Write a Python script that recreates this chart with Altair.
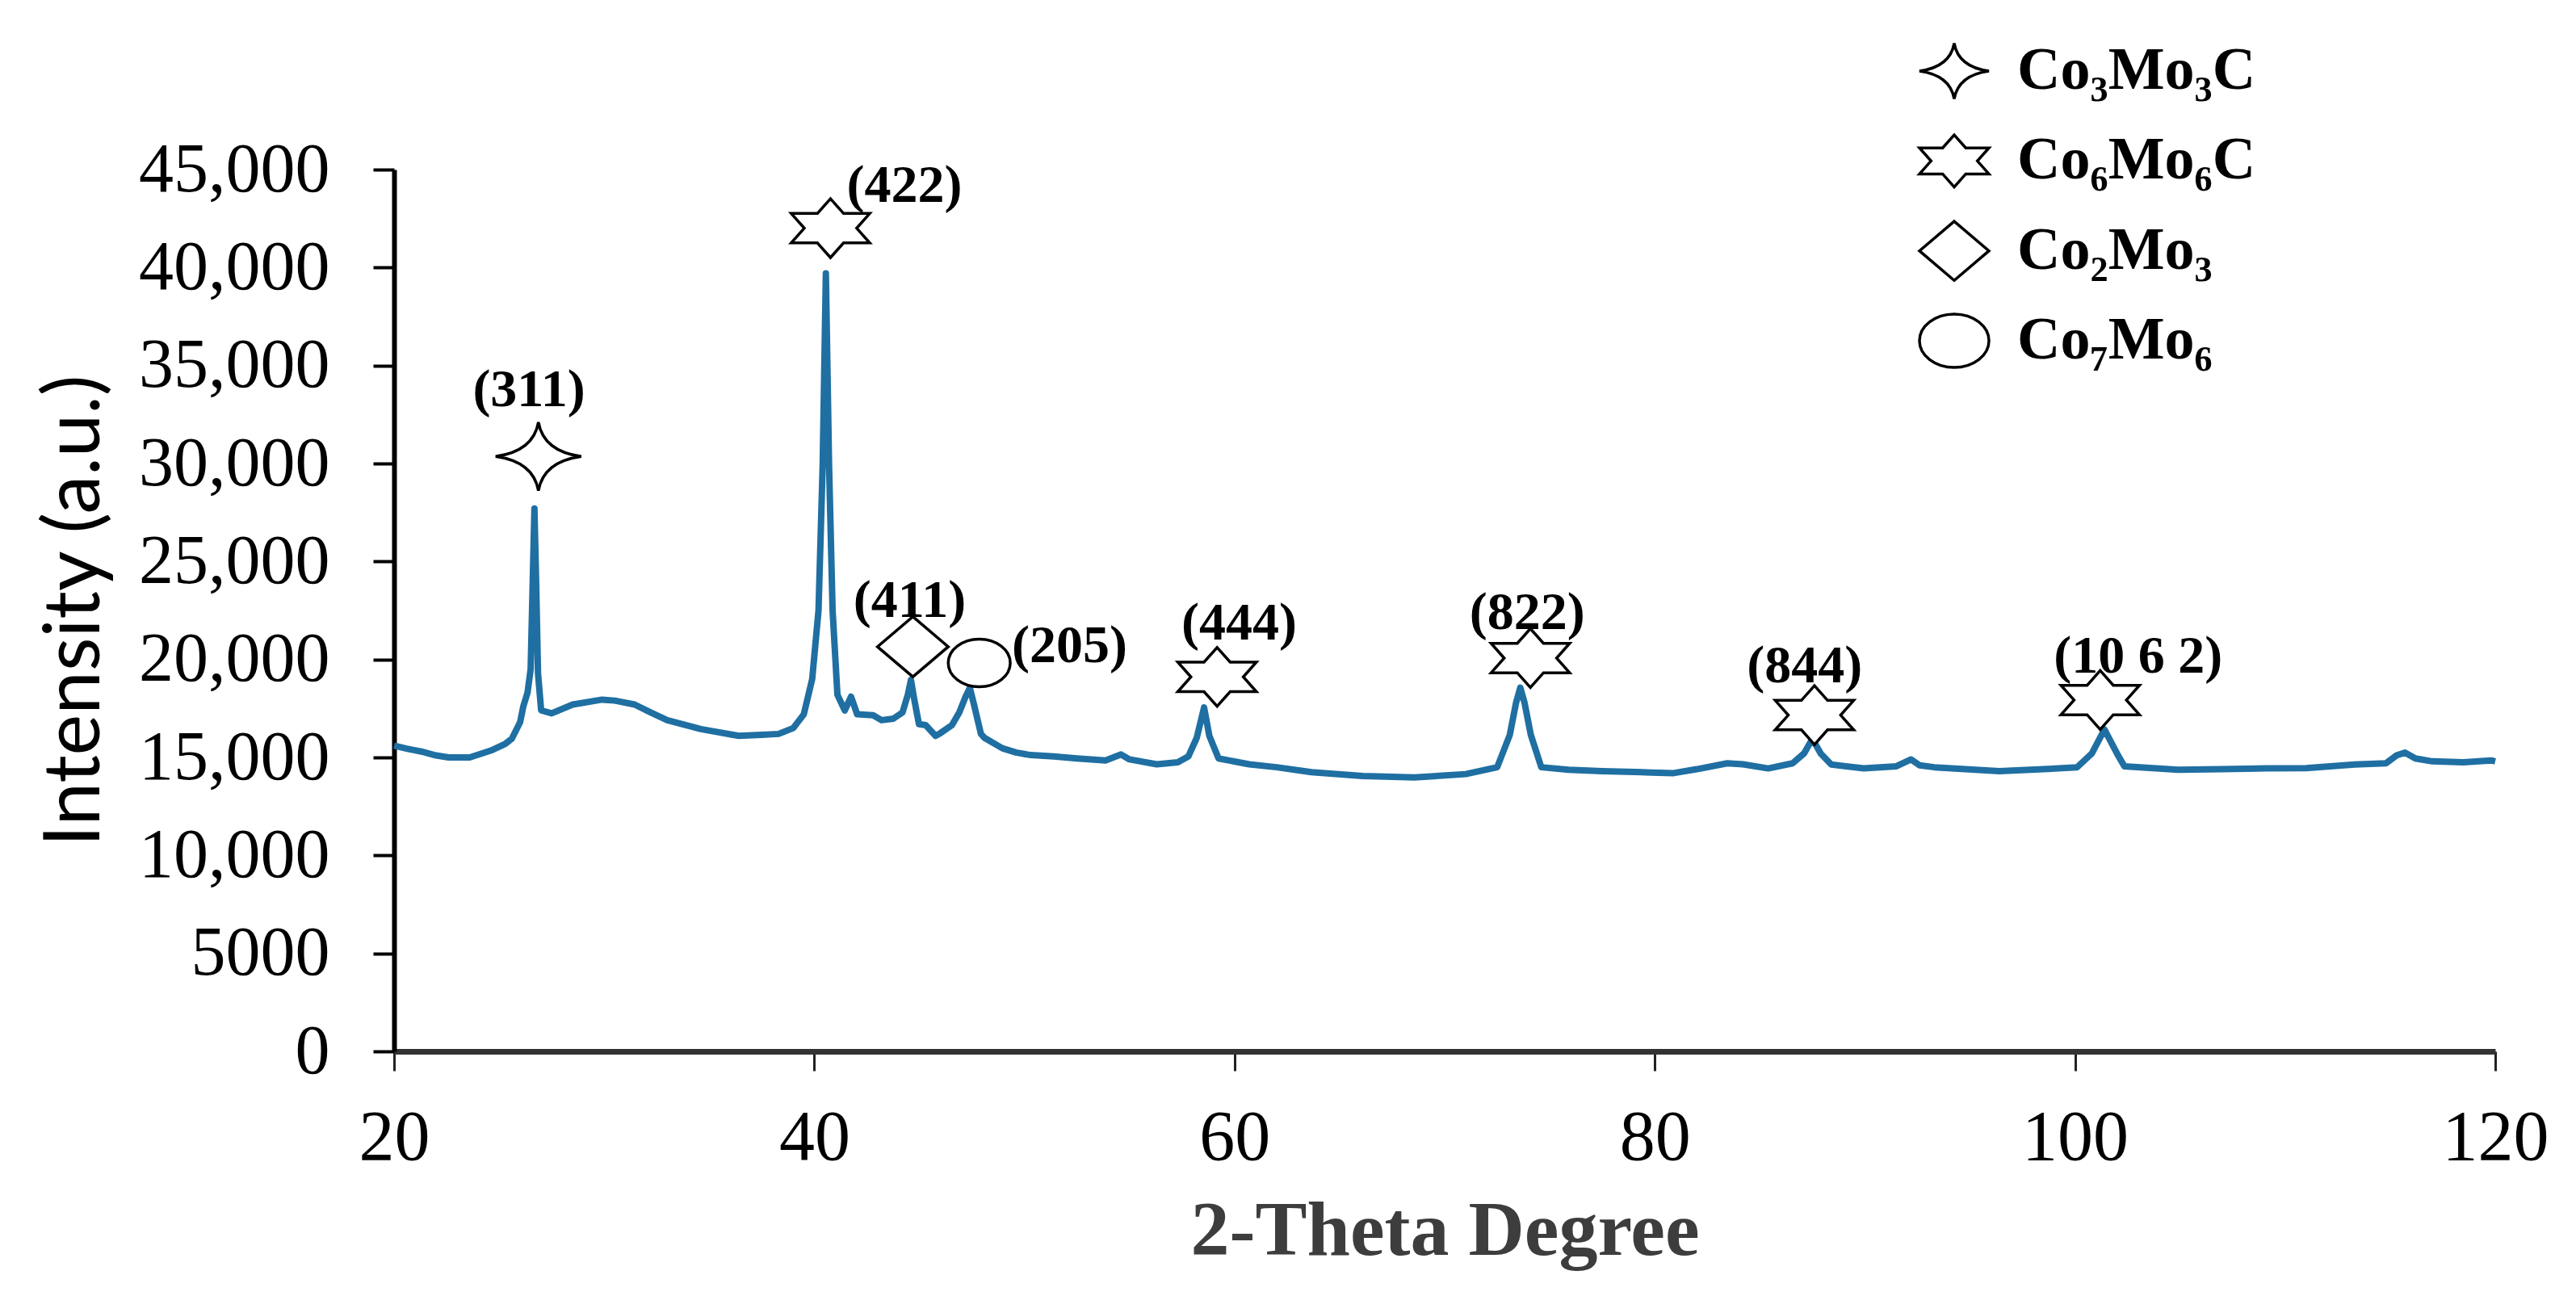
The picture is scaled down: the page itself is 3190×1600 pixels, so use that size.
import altair as alt
import pandas as pd

# ---- XRD pattern ----
two_theta = [20.0, 20.6, 21.3, 22.0, 22.6, 23.6, 24.6, 25.3, 25.6, 26.0, 26.15, 26.35, 26.5, 26.6, 26.68,
             26.76, 26.85, 27.0, 27.5, 28.5, 29.9, 30.5, 31.45, 32.2, 33.0, 34.6, 36.4, 37.5, 38.3, 39.0,
             39.5, 39.9, 40.2, 40.4, 40.55, 40.7, 40.87, 41.1, 41.45, 41.75, 42.04, 42.8, 43.2, 43.76, 44.2,
             44.45, 44.6, 44.75, 44.98, 45.3, 45.77, 46.0, 46.55, 46.9, 47.2, 47.4, 47.6, 47.93, 48.1, 48.95,
             49.6, 50.3, 51.4, 52.5, 53.86, 54.6, 55.0, 56.3, 57.3, 57.8, 58.2, 58.55, 58.8, 59.24, 60.7,
             62.0, 63.66, 66.1, 68.56, 71.0, 72.5, 73.1, 73.4, 73.6, 73.8, 74.1, 74.6, 75.9, 77.5, 79.85,
             80.9, 82.0, 83.45, 84.2, 85.4, 86.56, 87.1, 87.5, 87.9, 88.4, 89.95, 91.5, 92.2, 92.6, 93.3,
             96.4, 98.5, 100.1, 100.8, 101.4, 102.0, 102.35, 104.9, 107.0, 109.1, 111.0, 113.3, 114.8, 115.3,
             115.7, 116.2, 117.0, 118.5, 119.8, 120.0]
intensity = [15600, 15450, 15300, 15100, 15000, 15000, 15350, 15700, 15950, 16800, 17600, 18300, 19500, 24000, 27700,
             24000, 19300, 17400, 17250, 17700, 17950, 17900, 17700, 17300, 16900, 16450, 16100, 16150, 16200, 16500,
             17200, 19000, 22500, 30000, 39700, 30000, 22500, 18200, 17400, 18100, 17200, 17150, 16900, 16980, 17300,
             18200, 18950, 18000, 16700, 16650, 16100, 16240, 16650, 17300, 18100, 18550, 17700, 16200, 16000, 15470,
             15250, 15120, 15050, 14950, 14850, 15150, 14900, 14650, 14750, 15050, 16000, 17550, 16100, 14950, 14650,
             14500, 14250, 14050, 13980, 14150, 14500, 16150, 17800, 18560, 17800, 16150, 14500, 14370, 14300, 14230,
             14200, 14400, 14700, 14650, 14440, 14700, 15200, 15950, 15200, 14640, 14440, 14550, 14900, 14600, 14500,
             14300, 14400, 14500, 15200, 16430, 15200, 14550, 14370, 14400, 14440, 14450, 14640, 14700, 15100,
             15250, 14950, 14800, 14750, 14850, 14800]

# ---- peak annotations ----
ann_labels = ["(311)", "(422)", "(411)", "(205)", "(444)", "(822)", "(844)", "(10 6 2)"]
ann_x = [26.42, 44.29, 44.54, 52.15, 60.22, 73.93, 87.13, 103.0]
ann_y = [33770, 44180, 23000, 20690, 21850, 22380, 19660, 20150]

# ---- phase markers ----
phase_names = ["Co₃Mo₃C", "Co₆Mo₆C", "Co₂Mo₃", "Co₇Mo₆"]
marker_phase = ["Co₃Mo₃C", "Co₆Mo₆C", "Co₂Mo₃", "Co₇Mo₆", "Co₆Mo₆C", "Co₆Mo₆C", "Co₆Mo₆C", "Co₆Mo₆C"]
marker_x = [26.87, 40.77, 44.69, 47.85, 59.17, 74.08, 87.6, 101.2]
marker_y = [30360, 42010, 20650, 19820, 19110, 20070, 17160, 17930]

x_ticks = [20, 40, 60, 80, 100, 120]
y_ticks = [0, 5000, 10000, 15000, 20000, 25000, 30000, 35000, 40000, 45000]

star4 = "M0,-0.8 Q0.12,-0.12 1,0 Q0.12,0.12 0,0.8 Q-0.12,0.12 -1,0 Q-0.12,-0.12 0,-0.8 Z"
hexagram = ("M0,-0.75 L0.333,-0.375 L1,-0.375 L0.667,0 L1,0.375 L0.333,0.375 L0,0.75 "
            "L-0.333,0.375 L-1,0.375 L-0.667,0 L-1,-0.375 L-0.333,-0.375 Z")
diamond = "M0,-0.85 L1,0 L0,0.85 L-1,0 Z"
ellipse = "M-1,0 A1,0.77 0 1,1 1,0 A1,0.77 0 1,1 -1,0 Z"

curve = pd.DataFrame({"two_theta": two_theta, "intensity": intensity})
ann = pd.DataFrame({"label": ann_labels, "two_theta": ann_x, "intensity": ann_y})
mk = pd.DataFrame({"phase": marker_phase, "two_theta": marker_x, "intensity": marker_y})
legend_rows = pd.DataFrame({"phase": phase_names})

x_scale = alt.Scale(domain=[20, 120], nice=False, zero=False)
y_scale = alt.Scale(domain=[0, 45000], nice=False)
shape_scale = alt.Scale(domain=phase_names, range=[star4, hexagram, diamond, ellipse])

x_axis = alt.Axis(
    values=x_ticks, title="2-Theta Degree", grid=False,
    labelFont="Liberation Serif", labelFontSize=88, labelColor="black",
    labelBaseline="alphabetic", labelPadding=109, labelFlush=False,
    tickSize=24, tickWidth=3, tickColor="#222222",
    domainColor="#333333", domainWidth=7,
    titleFont="Liberation Serif", titleFontWeight="bold", titleFontSize=96, titleColor="#3d3d3d",
    titleBaseline="alphabetic", titleY=251, titleX=1301,
)
y_axis = alt.Axis(
    values=y_ticks, title="Intensity (a.u.)", grid=False,
    labelExpr="datum.value >= 10000 ? format(datum.value, ',') : format(datum.value, 'd')",
    labelFont="Liberation Serif", labelFontSize=86, labelColor="black",
    labelPadding=54, labelFlush=False, labelLimit=600,
    tickSize=26, tickWidth=4, tickColor="black",
    domainColor="black", domainWidth=6,
    titleFont="Liberation Sans Narrow, Lato, sans-serif", titleFontWeight="normal", titleFontSize=96,
    titleColor="black", titleAngle=-90, titleAlign="center", titleBaseline="alphabetic",
    titleX=-366, titleY=546, titleLimit=1200,
)

line = alt.Chart(curve).mark_line(color="#1f6fa2", strokeWidth=8, strokeJoin="round").encode(
    x=alt.X("two_theta:Q", scale=x_scale, axis=x_axis),
    y=alt.Y("intensity:Q", scale=y_scale, axis=y_axis),
)

markers = alt.Chart(mk).mark_point(
    fill="white", stroke="black", strokeWidth=3.5, opacity=1, fillOpacity=1).encode(
    x=alt.X("two_theta:Q", scale=x_scale),
    y=alt.Y("intensity:Q", scale=y_scale, axis=None),
    shape=alt.Shape("phase:N", scale=shape_scale, legend=None),
    size=alt.Size("phase:N", scale=alt.Scale(domain=phase_names,
                                             range=[11236, 5900, 3721, 3600]), legend=None),
)

texts = alt.Chart(ann).mark_text(font="Liberation Serif", fontWeight="bold", fontSize=66,
                                 color="black", align="center", baseline="middle").encode(
    x=alt.X("two_theta:Q", scale=x_scale),
    y=alt.Y("intensity:Q", scale=y_scale, axis=None),
    text="label:N",
)

# ---- legend (drawn from the phase list on its own point scale) ----
legend_y = alt.Y("phase:N", scale=alt.Scale(type="point", domain=phase_names, range=[-122, 212],
                                            padding=0), axis=None)
legend_symbols = alt.Chart(legend_rows).mark_point(
    fill="white", stroke="black", strokeWidth=3.5, opacity=1, fillOpacity=1, size=7400).encode(
    x=alt.value(1932),
    y=legend_y,
    shape=alt.Shape("phase:N", scale=shape_scale, legend=None),
)
legend_labels = alt.Chart(legend_rows).mark_text(
    font="Liberation Serif", fontWeight="bold", fontSize=74, color="black",
    align="left", baseline="middle").encode(
    x=alt.value(2010),
    y=legend_y,
    text="phase:N",
)

chart = alt.layer(line, markers, texts, legend_symbols, legend_labels).resolve_scale(
    y="independent"
).properties(
    width=2602, height=1092,
    background="white",
    autosize=alt.AutoSizeParams(type="none"),
    padding={"left": 480, "top": 202, "right": 92, "bottom": 290},
).configure_view(stroke=None)

chart.save("out.html", embed_options={"renderer": "svg", "actions": False})
